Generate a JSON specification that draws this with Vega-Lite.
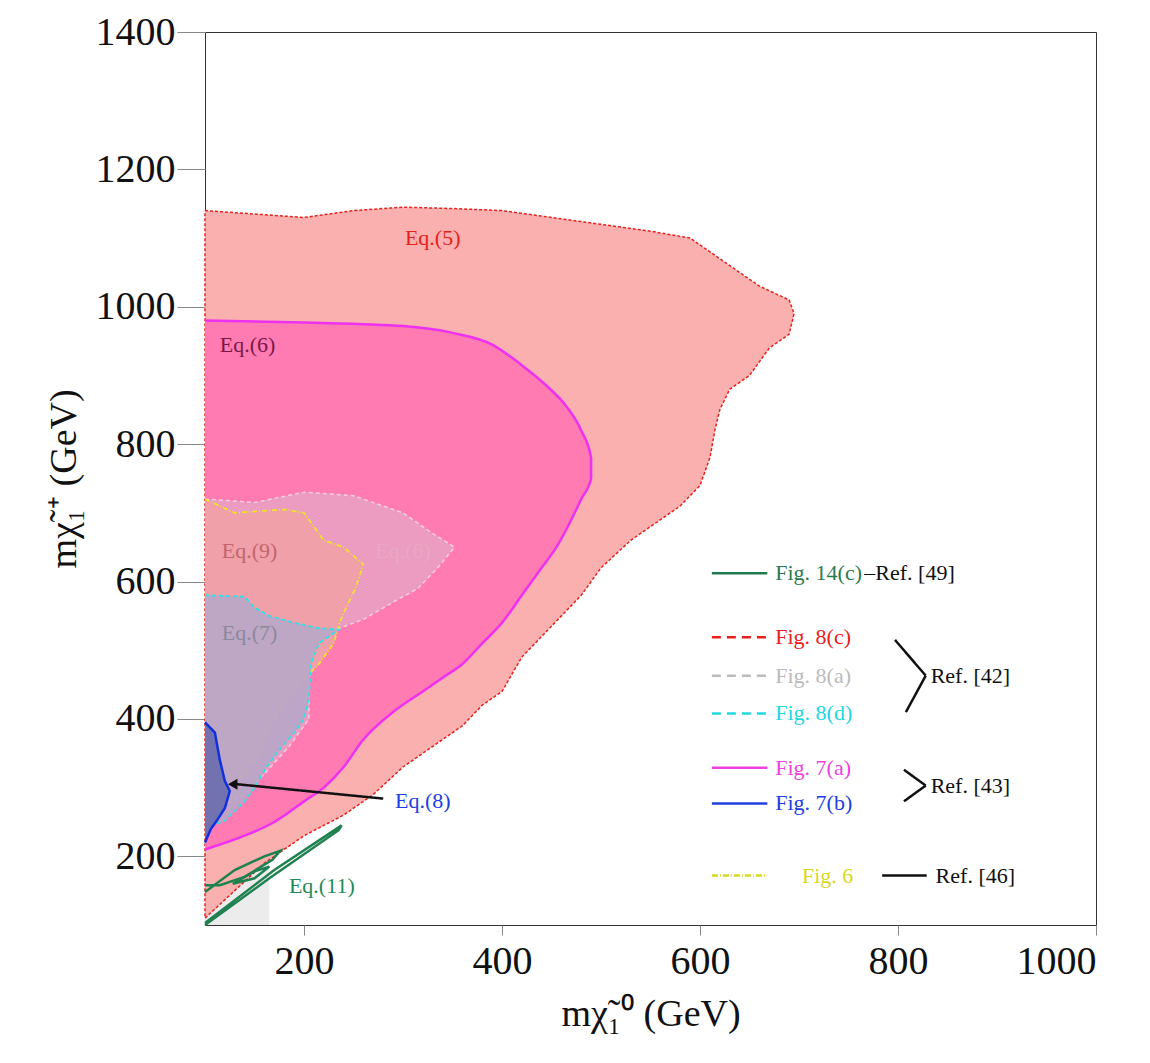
{
  "$schema": "https://vega.github.io/schema/vega-lite/v6.json",
  "width": 891,
  "height": 893,
  "autosize": {"type": "none"},
  "padding": {"left": 205, "top": 32, "right": 54, "bottom": 138},
  "background": "white",
  "config": {"font": "Liberation Serif", "view": {"stroke": "#333"}},
  "datasets": {
    "eq5": [
      {"o":1,"x":100,"y":1140},{"o":2,"x":200,"y":1130},{"o":3,"x":250,"y":1140},{"o":4,"x":300,"y":1145},{"o":5,"x":350,"y":1143},{"o":6,"x":400,"y":1140},{"o":7,"x":450,"y":1130},{"o":8,"x":500,"y":1120},{"o":9,"x":550,"y":1110},{"o":10,"x":590,"y":1100},{"o":11,"x":620,"y":1070},{"o":12,"x":660,"y":1030},{"o":13,"x":690,"y":1010},{"o":14,"x":695,"y":990},{"o":15,"x":690,"y":960},{"o":16,"x":670,"y":940},{"o":17,"x":660,"y":920},{"o":18,"x":650,"y":900},{"o":19,"x":630,"y":880},{"o":20,"x":620,"y":850},{"o":21,"x":615,"y":820},{"o":22,"x":610,"y":780},{"o":23,"x":600,"y":740},{"o":24,"x":580,"y":710},{"o":25,"x":560,"y":690},{"o":26,"x":530,"y":660},{"o":27,"x":500,"y":620},{"o":28,"x":480,"y":580},{"o":29,"x":460,"y":550},{"o":30,"x":440,"y":520},{"o":31,"x":420,"y":490},{"o":32,"x":400,"y":440},{"o":33,"x":380,"y":420},{"o":34,"x":360,"y":390},{"o":35,"x":330,"y":360},{"o":36,"x":300,"y":330},{"o":37,"x":270,"y":290},{"o":38,"x":240,"y":260},{"o":39,"x":200,"y":230},{"o":40,"x":160,"y":190},{"o":41,"x":130,"y":150},{"o":42,"x":100,"y":110},{"o":43,"x":100,"y":1140}
    ],
    "eq6": [
      {"o":1,"x":100,"y":980},{"o":2,"x":200,"y":977},{"o":3,"x":300,"y":972},{"o":4,"x":350,"y":962},{"o":5,"x":390,"y":945},{"o":6,"x":420,"y":915},{"o":7,"x":445,"y":885},{"o":8,"x":465,"y":855},{"o":9,"x":480,"y":820},{"o":10,"x":490,"y":780},{"o":11,"x":490,"y":750},{"o":12,"x":480,"y":720},{"o":13,"x":470,"y":690},{"o":14,"x":455,"y":650},{"o":15,"x":440,"y":620},{"o":16,"x":420,"y":580},{"o":17,"x":400,"y":540},{"o":18,"x":380,"y":510},{"o":19,"x":360,"y":480},{"o":20,"x":340,"y":460},{"o":21,"x":320,"y":440},{"o":22,"x":290,"y":410},{"o":23,"x":260,"y":370},{"o":24,"x":240,"y":330},{"o":25,"x":220,"y":300},{"o":26,"x":200,"y":280},{"o":27,"x":170,"y":250},{"o":28,"x":140,"y":230},{"o":29,"x":100,"y":210}
    ],
    "f8a": [
      {"o":1,"x":100,"y":720},{"o":2,"x":150,"y":715},{"o":3,"x":200,"y":730},{"o":4,"x":250,"y":725},{"o":5,"x":300,"y":700},{"o":6,"x":330,"y":670},{"o":7,"x":352,"y":650},{"o":8,"x":335,"y":620},{"o":9,"x":315,"y":590},{"o":10,"x":290,"y":570},{"o":11,"x":260,"y":545},{"o":12,"x":232,"y":530},{"o":13,"x":215,"y":500},{"o":14,"x":205,"y":460},{"o":15,"x":205,"y":400},{"o":16,"x":185,"y":360},{"o":17,"x":160,"y":320},{"o":18,"x":140,"y":290},{"o":19,"x":100,"y":260}
    ],
    "f6": [
      {"o":1,"x":100,"y":720},{"o":2,"x":130,"y":700},{"o":3,"x":180,"y":705},{"o":4,"x":200,"y":700},{"o":5,"x":210,"y":680},{"o":6,"x":220,"y":660},{"o":7,"x":240,"y":650},{"o":8,"x":260,"y":625},{"o":9,"x":252,"y":590},{"o":10,"x":242,"y":560},{"o":11,"x":236,"y":540},{"o":12,"x":230,"y":510},{"o":13,"x":215,"y":480},{"o":14,"x":195,"y":450},{"o":15,"x":180,"y":420},{"o":16,"x":170,"y":400},{"o":17,"x":160,"y":370},{"o":18,"x":150,"y":340},{"o":19,"x":140,"y":320},{"o":20,"x":128,"y":305},{"o":21,"x":100,"y":300}
    ],
    "f8d": [
      {"o":1,"x":100,"y":580},{"o":2,"x":140,"y":578},{"o":3,"x":150,"y":562},{"o":4,"x":165,"y":550},{"o":5,"x":190,"y":540},{"o":6,"x":215,"y":532},{"o":7,"x":235,"y":530},{"o":8,"x":215,"y":510},{"o":9,"x":207,"y":480},{"o":10,"x":205,"y":430},{"o":11,"x":200,"y":400},{"o":12,"x":190,"y":380},{"o":13,"x":178,"y":360},{"o":14,"x":162,"y":330},{"o":15,"x":150,"y":300},{"o":16,"x":140,"y":280},{"o":17,"x":120,"y":252},{"o":18,"x":100,"y":240}
    ],
    "f7b": [
      {"o":1,"x":100,"y":395},{"o":2,"x":110,"y":380},{"o":3,"x":115,"y":340},{"o":4,"x":120,"y":310},{"o":5,"x":125,"y":295},{"o":6,"x":120,"y":270},{"o":7,"x":112,"y":252},{"o":8,"x":106,"y":240},{"o":9,"x":100,"y":220}
    ],
    "green": [
      {"g":"a","o":1,"x":100,"y":103},{"g":"a","o":2,"x":170,"y":180},{"g":"a","o":3,"x":238,"y":245},{"g":"a","o":4,"x":235,"y":238},{"g":"a","o":5,"x":165,"y":168},{"g":"a","o":6,"x":100,"y":100},
      {"g":"b","o":1,"x":100,"y":148},{"g":"b","o":2,"x":130,"y":180},{"g":"b","o":3,"x":160,"y":200},{"g":"b","o":4,"x":176,"y":208},{"g":"b","o":5,"x":168,"y":195},{"g":"b","o":6,"x":140,"y":170},{"g":"b","o":7,"x":115,"y":158},{"g":"b","o":8,"x":100,"y":158},
      {"g":"c","o":1,"x":128,"y":160},{"g":"c","o":2,"x":150,"y":178},{"g":"c","o":3,"x":165,"y":185},{"g":"c","o":4,"x":150,"y":168},{"g":"c","o":5,"x":128,"y":160}
    ],
    "labels": [
      {"t":"Eq.(5)","x":330,"y":1100,"c":"#e8201c"},
      {"t":"Eq.(6)","x":143,"y":945,"c":"#7a1848"},
      {"t":"Eq.(9)","x":145,"y":645,"c":"#c4646e"},
      {"t":"Eq.(6)","x":300,"y":645,"c":"#e8a8c4"},
      {"t":"Eq.(7)","x":145,"y":525,"c":"#8a8a9a"},
      {"t":"Eq.(8)","x":320,"y":280,"c":"#1c3ee0"},
      {"t":"Eq.(11)","x":218,"y":157,"c":"#1f8a55"}
    ],
    "legtext": [
      {"t":"Fig. 14(c)","x":676,"y":612,"c":"#2a7a50"},
      {"t":"–Ref. [49]","x":766,"y":612,"c":"#111"},
      {"t":"Fig. 8(c)","x":676,"y":519,"c":"#e8201c"},
      {"t":"Fig. 8(a)","x":676,"y":463,"c":"#bbbbbb"},
      {"t":"Fig. 8(d)","x":676,"y":408,"c":"#22d8e0"},
      {"t":"Ref. [42]","x":833,"y":463,"c":"#111"},
      {"t":"Fig. 7(a)","x":676,"y":329,"c":"#f040e0"},
      {"t":"Fig. 7(b)","x":676,"y":277,"c":"#2040e0"},
      {"t":"Ref. [43]","x":833,"y":303,"c":"#111"},
      {"t":"Fig. 6","x":703,"y":172,"c":"#d8d820"},
      {"t":"Ref. [46]","x":838,"y":172,"c":"#111"}
    ],
    "legline": [
      {"k":"g","x":612,"x2":668,"y":612,"y2":612,"c":"#1f7a50","d":[1,0]},
      {"k":"r","x":612,"x2":668,"y":519,"y2":519,"c":"#e8201c","d":[9,6]},
      {"k":"a","x":612,"x2":668,"y":463,"y2":463,"c":"#bbbbbb","d":[9,6]},
      {"k":"d","x":612,"x2":668,"y":408,"y2":408,"c":"#22d8e0","d":[9,6]},
      {"k":"m","x":612,"x2":668,"y":329,"y2":329,"c":"#f040e0","d":[1,0]},
      {"k":"b","x":612,"x2":668,"y":277,"y2":277,"c":"#2040e0","d":[1,0]},
      {"k":"y","x":612,"x2":668,"y":172,"y2":172,"c":"#d8d820","d":[6,2,1,2]},
      {"k":"k1","x":797,"x2":828,"y":515,"y2":463,"c":"#111","d":[1,0]},
      {"k":"k2","x":828,"x2":808,"y":463,"y2":410,"c":"#111","d":[1,0]},
      {"k":"k3","x":806,"x2":828,"y":326,"y2":303,"c":"#111","d":[1,0]},
      {"k":"k4","x":828,"x2":806,"y":303,"y2":280,"c":"#111","d":[1,0]},
      {"k":"k5","x":784,"x2":829,"y":172,"y2":172,"c":"#111","d":[1,0]},
      {"k":"ar","x":280,"x2":132,"y":284,"y2":305,"c":"#111","d":[1,0]}
    ]
  },
  "encoding": {
    "x": {"field": "x", "type": "quantitative", "scale": {"domain": [100, 1000], "nice": false, "zero": false},
      "axis": {"values": [200, 400, 600, 800, 1000], "format": "d", "title": "mχ̃₁⁰ (GeV)", "titleFontSize": 38, "titleFontWeight": "normal", "titleColor": "#111", "titlePadding": 14, "labelFontSize": 40, "labelColor": "#111", "grid": false, "tickSize": 10, "domain": false, "labelPadding": 6}},
    "y": {"field": "y", "type": "quantitative", "scale": {"domain": [100, 1400], "nice": false, "zero": false},
      "axis": {"values": [200, 400, 600, 800, 1000, 1200, 1400], "format": "d", "title": "mχ̃₁⁺ (GeV)", "titleFontSize": 38, "titleFontWeight": "normal", "titleColor": "#111", "titlePadding": 12, "labelFontSize": 40, "labelColor": "#111", "grid": false, "tickSize": 28, "domain": false}}
  },
  "layer": [
    {"data": {"values": [{"x": 100, "x2": 165, "y": 100, "y2": 215}]}, "mark": {"type": "rect", "fill": "#ececec"}, "encoding": {"x2": {"field": "x2"}, "y2": {"field": "y2"}}},
    {"data": {"name": "eq5"}, "mark": {"type": "line", "fill": "#f9b0ae", "fillOpacity": 1, "stroke": "#e8201c", "strokeWidth": 1.5, "strokeDash": [3, 2]}, "encoding": {"order": {"field": "o"}}},
    {"data": {"name": "eq6"}, "mark": {"type": "line", "fill": "#ff7bb2", "fillOpacity": 1, "stroke": "#f030f0", "strokeWidth": 2.5, "interpolate": "monotone"}, "encoding": {"order": {"field": "o"}}},
    {"data": {"name": "f8a"}, "mark": {"type": "line", "fill": "#eb9cc0", "fillOpacity": 1, "stroke": "#f0d0e0", "strokeWidth": 1.5, "strokeDash": [4, 3]}, "encoding": {"order": {"field": "o"}}},
    {"data": {"name": "f6"}, "mark": {"type": "line", "fill": "#efa0a8", "fillOpacity": 1, "stroke": "#f0e030", "strokeWidth": 1.8, "strokeDash": [5, 2, 1, 2]}, "encoding": {"order": {"field": "o"}}},
    {"data": {"name": "f8d"}, "mark": {"type": "line", "fill": "#b8a6c8", "fillOpacity": 0.9, "stroke": "#30e0e8", "strokeWidth": 1.8, "strokeDash": [4, 3]}, "encoding": {"order": {"field": "o"}}},
    {"data": {"name": "f7b"}, "mark": {"type": "line", "fill": "#7272b0", "fillOpacity": 1, "stroke": "#1030e0", "strokeWidth": 2.5}, "encoding": {"order": {"field": "o"}}},
    {"data": {"name": "green"}, "mark": {"type": "line", "stroke": "#1f8050", "strokeWidth": 2.5}, "encoding": {"detail": {"field": "g"}, "order": {"field": "o"}}},
    {"data": {"name": "legline"}, "mark": {"type": "rule", "strokeWidth": 2.5}, "encoding": {"x2": {"field": "x2"}, "y2": {"field": "y2"}, "color": {"field": "c", "type": "nominal", "scale": null}, "strokeDash": {"field": "d", "type": "nominal", "scale": null}, "detail": {"field": "k"}}},
    {"data": {"values": [{"x": 128, "y": 305}]}, "mark": {"type": "point", "shape": "triangle-left", "filled": true, "color": "#111", "size": 120, "opacity": 1}},
    {"data": {"name": "labels"}, "mark": {"type": "text", "fontSize": 22, "align": "center", "baseline": "middle"}, "encoding": {"text": {"field": "t"}, "color": {"field": "c", "type": "nominal", "scale": null}}},
    {"data": {"name": "legtext"}, "mark": {"type": "text", "fontSize": 22, "align": "left", "baseline": "middle"}, "encoding": {"text": {"field": "t"}, "color": {"field": "c", "type": "nominal", "scale": null}}}
  ]
}
